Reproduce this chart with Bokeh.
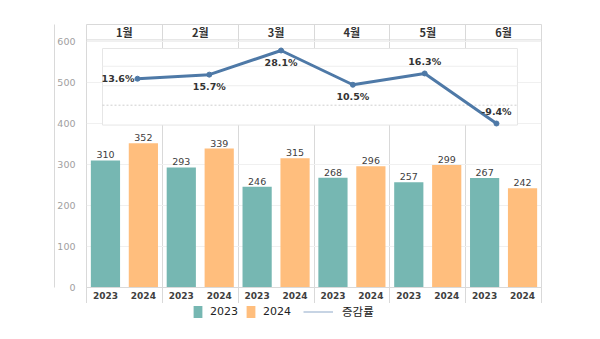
from bokeh.plotting import figure
from bokeh.layouts import column
from bokeh.models import (Range1d, LinearAxis, FixedTicker, ColumnDataSource,
                          Legend, LegendItem)
from bokeh.core.properties import value
from bokeh.embed import file_html
from bokeh.resources import INLINE

# ---------------- data ----------------
months = ["1월", "2월", "3월", "4월", "5월", "6월"]
years = ["2023", "2024"]
sales_2023 = [310, 293, 246, 268, 257, 267]
sales_2024 = [352, 339, 315, 296, 299, 242]
growth = [13.6, 15.7, 28.1, 10.5, 16.3, -9.4]
growth_label_side = ["left", "below", "below", "below", "above", "above"]
y_ticks = [0, 100, 200, 300, 400, 500, 600]
growth_grid = [0, 10, 20]
legend_labels = ["2023", "2024", "증감률"]

C23 = "#76B7B2"
C24 = "#FFBE7D"
CLINE = "#4E79A7"
GRID = "#d9d9d9"

n = len(months)
BAR_TOP = 604          # top of the bar area (header starts above it)
HDR_TOP = 641.5        # top of the header band

p = figure(width=600, height=303, output_backend="svg", toolbar_location=None,
           x_range=Range1d(0, 2 * n), y_range=Range1d(0, HDR_TOP),
           min_border_left=86, min_border_right=59, min_border_top=24,
           min_border_bottom=16)
p.outline_line_color = GRID
p.background_fill_color = "white"
p.border_fill_color = "white"
p.extra_x_ranges = {"lx": Range1d(-0.710, 5.627)}
p.extra_y_ranges = {"pct": Range1d(-93.63, 41.45)}

sep = [2 * i for i in range(n + 1)]

# bottom axis: years
year_ticks = [2 * i + j + 0.5 for i in range(n) for j in range(2)]
xa = p.xaxis[0]
xa.ticker = FixedTicker(ticks=year_ticks, minor_ticks=sep)
xa.major_label_overrides = {t: years[k % 2] for k, t in enumerate(year_ticks)}
xa.major_tick_line_color = None
xa.major_tick_out = 0
xa.minor_tick_in = 0
xa.minor_tick_out = 16
xa.minor_tick_line_color = GRID
xa.axis_line_color = GRID
xa.major_label_standoff = -12
xa.major_label_text_font = "DejaVu Sans"
xa.major_label_text_font_style = "bold"
xa.major_label_text_font_size = "9px"
xa.major_label_text_color = "#404040"

# y axis
ya = p.yaxis[0]
ya.ticker = FixedTicker(ticks=y_ticks)
ya.major_tick_line_color = None
ya.minor_tick_line_color = None
ya.axis_line_color = None
ya.major_label_standoff = 5
ya.major_label_text_font = "DejaVu Sans"
ya.major_label_text_font_size = "9.5px"
ya.major_label_text_color = "#a0a0a0"

left_line = LinearAxis(ticker=FixedTicker(ticks=[]), axis_line_color=GRID,
                       major_tick_line_color=None, minor_tick_line_color=None,
                       major_label_text_font_size="0px")
p.add_layout(left_line, "left")

# grids
p.xgrid[0].ticker = FixedTicker(ticks=sep)
p.xgrid[0].grid_line_color = GRID
p.ygrid[0].ticker = FixedTicker(ticks=y_ticks)
p.ygrid[0].grid_line_color = "#f0f0f0"

# header band with month names
p.segment(x0=[0], x1=[2 * n], y0=[BAR_TOP], y1=[BAR_TOP], line_color=GRID, line_width=1)
hsrc = ColumnDataSource(dict(x=[2 * i + 1 for i in range(n)],
                             y=[(BAR_TOP + HDR_TOP) / 2] * n, t=months))
p.text(x="x", y="y", text="t", source=hsrc, text_align="center", text_baseline="middle",
       text_font=value("Noto Sans CJK KR"), text_font_style="bold",
       text_font_size="11px", text_color="#333333")

# bars
src = ColumnDataSource(dict(
    x23=[2 * i + 0.5 for i in range(n)],
    x24=[2 * i + 1.5 for i in range(n)],
    v23=sales_2023, v24=sales_2024,
    t23=[str(v) for v in sales_2023], t24=[str(v) for v in sales_2024],
))
p.vbar(x="x23", top="v23", width=0.77, source=src, fill_color=C23, line_color=None)
p.vbar(x="x24", top="v24", width=0.77, source=src, fill_color=C24, line_color=None)
for xc, vc, tc in (("x23", "v23", "t23"), ("x24", "v24", "t24")):
    p.text(x=xc, y=vc, text=tc, source=src, text_align="center", text_baseline="bottom",
           y_offset=-2, text_font=value("DejaVu Sans"), text_font_size="9.5px",
           text_color="#404040")

# growth-rate overlay panel
box_l, box_r, box_b, box_t = -0.487, 5.292, -10.2, 29.1
p.quad(left=[box_l], right=[box_r], bottom=[box_b], top=[box_t],
       x_range_name="lx", y_range_name="pct", fill_color="white",
       line_color="#e6e6e6", line_width=1)
for g in growth_grid:
    p.segment(x0=[box_l], x1=[box_r], y0=[g], y1=[g], x_range_name="lx",
              y_range_name="pct",
              line_color="#cfcfcf" if g == 0 else "#eeeeee",
              line_dash="2 2" if g == 0 else "solid", line_width=1)

idx = list(range(n))
gsrc = ColumnDataSource(dict(
    x=idx, y=growth, t=[f"{g:.1f}%" for g in growth],
    xo=[-3 if s == "left" else 0 for s in growth_label_side],
    yo=[0 if s == "left" else (12 if s == "below" else -12) for s in growth_label_side],
    al=["right" if s == "left" else "center" for s in growth_label_side],
))
p.line(x="x", y="y", source=gsrc, x_range_name="lx", y_range_name="pct",
       line_color=CLINE, line_width=3)
p.scatter(x="x", y="y", source=gsrc, x_range_name="lx", y_range_name="pct",
          size=5, color=CLINE)
p.text(x="x", y="y", text="t", source=gsrc, x_range_name="lx", y_range_name="pct",
       x_offset="xo", y_offset="yo", text_align="al", text_baseline="middle",
       text_font=value("DejaVu Sans"), text_font_style="bold",
       text_font_size="9.5px", text_color="#333333")

# ---------------- legend strip ----------------
lg = figure(width=600, height=36, output_backend="svg", toolbar_location=None,
            x_range=Range1d(0, 1), y_range=Range1d(0, 1),
            x_axis_location=None, y_axis_location=None, min_border=0)
lg.outline_line_color = None
lg.grid.visible = False
lg.border_fill_color = "white"
e = ColumnDataSource(dict(x=[-10, -9], y=[-10, -9], top=[-5, -5]))
d23 = lg.vbar(x="x", top="top", width=0.5, source=e, fill_color=C23, line_color=None)
d24 = lg.vbar(x="x", top="top", width=0.5, source=e, fill_color=C24, line_color=None)
dln = lg.line(x="x", y="y", source=e, line_color="#8fa9c9", line_width=1)
leg1 = Legend(items=[LegendItem(label=legend_labels[0], renderers=[d23]),
                     LegendItem(label=legend_labels[1], renderers=[d24])],
              orientation="horizontal", location=(106, 20),
              glyph_width=11, glyph_height=15, label_height=15, label_standoff=7,
              spacing=7, padding=0, margin=0, border_line_color=None,
              background_fill_alpha=0, label_text_font="DejaVu Sans",
              label_text_font_size="11px", label_text_color="#222222")
leg2 = Legend(items=[LegendItem(label=legend_labels[2], renderers=[dln])],
              orientation="horizontal", location=(217, 20),
              glyph_width=30, glyph_height=15, label_height=15, label_standoff=9,
              padding=0, margin=0, border_line_color=None,
              background_fill_alpha=0, label_text_font="Noto Sans CJK KR",
              label_text_font_size="11.5px", label_text_color="#222222")
lg.add_layout(leg1, "center")
lg.add_layout(leg2, "center")

layout = column(p, lg, spacing=0)
open("out.html", "w").write(file_html(layout, INLINE))
